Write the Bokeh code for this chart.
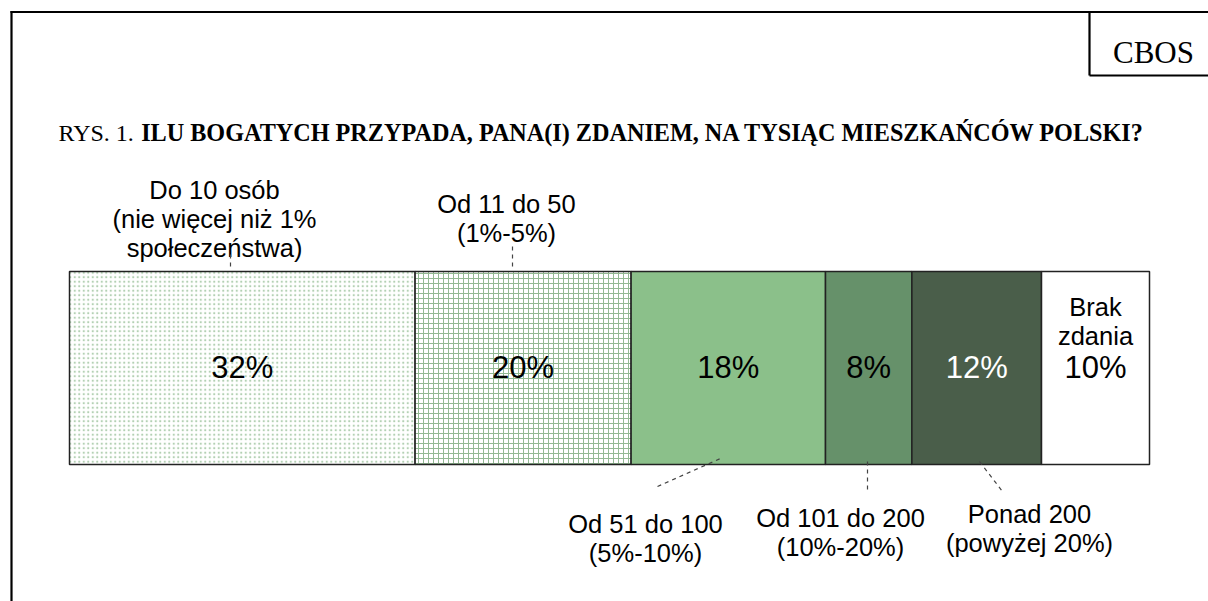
from bokeh.plotting import figure
from bokeh.models import Range1d
from bokeh.core.properties import value
from bokeh.embed import file_html
from bokeh.resources import INLINE

# ---- data ----
categories = ["Do 10 osób\n(nie więcej niż 1%\nspołeczeństwa)",
              "Od 11 do 50\n(1%-5%)",
              "Od 51 do 100\n(5%-10%)",
              "Od 101 do 200\n(10%-20%)",
              "Ponad 200\n(powyżej 20%)",
              "Brak\nzdania"]
shares = [32, 20, 18, 8, 12, 10]
title_prefix = "RYS. 1. "
title_main = "ILU BOGATYCH PRZYPADA, PANA(I) ZDANIEM, NA TYSIĄC MIESZKAŃCÓW POLSKI?"
source_tag = "CBOS"

# ---- styling / layout (pixel positions of the page) ----
W, H = 1208, 601
X0_PX, PX_PER_PCT = 69.0, 10.8          # bar start (px) and px per percentage point
def xd(px):                             # pixel -> data x (percent units)
    return (px - X0_PX) / PX_PER_PCT

fills = [None, None, "#8bc08a", "#66916a", "#4a5e4a", "#ffffff"]
hatches = [".", "+", " ", " ", " ", " "]
hatch_cols = ["#b3d0b3", "#93b993", None, None, None, None]
hatch_scales = [4.5, 5, 1, 1, 1, 1]
pct_cols = ["#000000", "#000000", "#000000", "#000000", "#ffffff", "#000000"]
BAR_TOP, BAR_BOT = 271, 464
MID = 367
SANS = value("Liberation Sans")
SERIF = value("Liberation Serif")

p = figure(width=W, height=H, output_backend="svg", toolbar_location=None,
           x_range=Range1d(xd(0), xd(W)), y_range=Range1d(H, 0),
           min_border=0, outline_line_color=None)
p.xaxis.visible = False
p.yaxis.visible = False
p.xgrid.visible = False
p.ygrid.visible = False

# page frame and CBOS box
p.segment(x0=[xd(11), xd(10), xd(1089), xd(1089)], y0=[10.5, 11.5, 11.5, 75],
          x1=[xd(11), xd(W + 10), xd(1089), xd(W + 10)], y1=[H + 10, 11.5, 75, 75],
          line_color="black", line_width=2.2)
p.text(x=[xd(1153)], y=[52], text=[source_tag], text_font=SERIF,
       text_font_size="31px", text_align="center", text_baseline="alphabetic",
       text_color="black")

# title
p.text(x=[xd(58)], y=[132], text=[title_prefix], text_font=SERIF,
       text_font_size="24px", text_baseline="alphabetic", text_color="black")
p.text(x=[xd(58 + 3.445 * 24)], y=[132], text=[title_main], text_font=SERIF,
       text_font_size="24.2px", text_font_style="bold", text_baseline="alphabetic",
       text_color="black")

# stacked bar
lefts, rights = [], []
acc = 0
for s in shares:
    lefts.append(acc)
    acc += s
    rights.append(acc)
for i in range(len(shares)):
    kw = dict(left=[lefts[i]], right=[rights[i]], top=[BAR_TOP], bottom=[BAR_BOT],
              line_color="#222222", line_width=1.5)
    if hatches[i].strip():
        p.quad(fill_color="white", hatch_pattern=hatches[i], hatch_color=hatch_cols[i],
               hatch_scale=hatch_scales[i], hatch_weight=1.0, **kw)
    else:
        p.quad(fill_color=fills[i], **kw)

centers = [(l + r) / 2 for l, r in zip(lefts, rights)]
p.text(x=centers, y=[MID] * len(shares), text=[f"{s}%" for s in shares],
       text_font=SANS, text_font_size="31px", text_align="center",
       text_baseline="middle", text_color=pct_cols)

# category labels: center x px, first baseline px
lab_pos = [(214, 189), (506, 203), (645, 523), (840, 517), (1029, 513), (1095, 306)]
LINE = 29
lx, ly, lt = [], [], []
for cat, (cx, by) in zip(categories, lab_pos):
    for k, line in enumerate(cat.split("\n")):
        lx.append(xd(cx)); ly.append(by + k * LINE); lt.append(line)
p.text(x=lx, y=ly, text=lt, text_font=SANS, text_font_size="25.5px",
       text_align="center", text_baseline="alphabetic", text_color="black")

# leader lines
p.segment(x0=[xd(230), xd(512), xd(657), xd(867), xd(979)],
          y0=[254, 246, 486, 461, 461],
          x1=[xd(230), xd(512), xd(720), xd(867), xd(1002)],
          y1=[270, 269, 458, 493, 491],
          line_color="#444444", line_width=1.2, line_dash="4 4")

open("out.html", "w").write(file_html(p, INLINE))
